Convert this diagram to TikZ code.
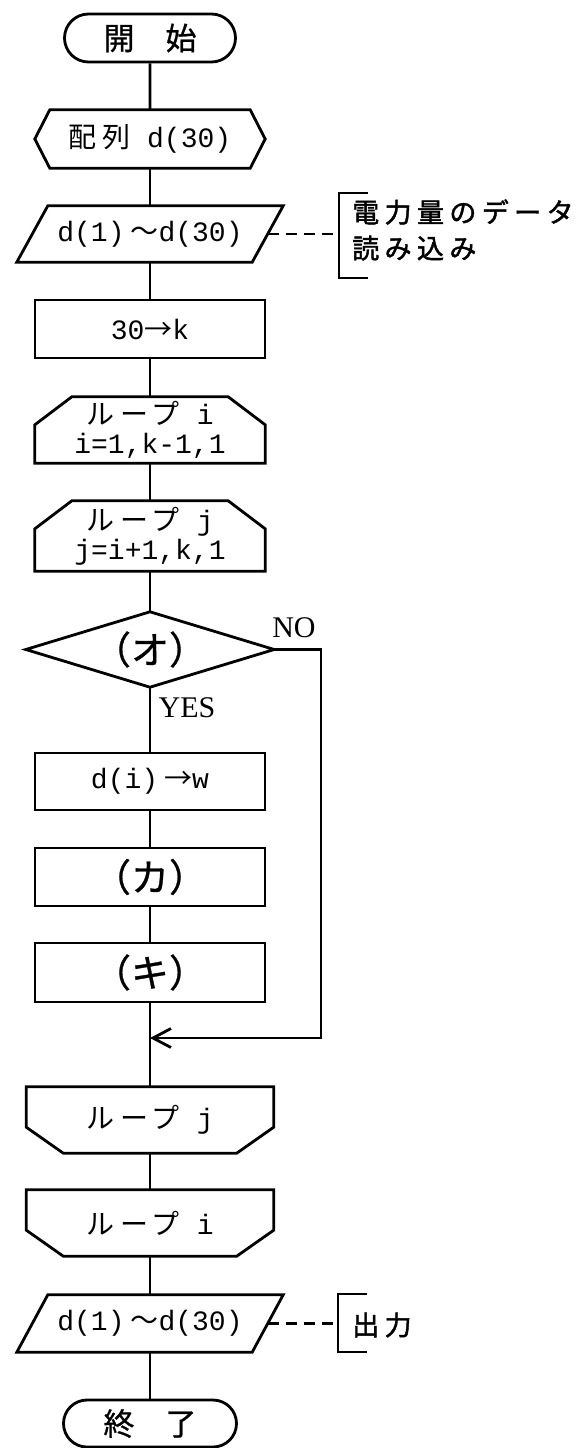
\documentclass[tikz,border=0pt]{standalone}
\usepackage{fontspec}
\setmainfont{Liberation Serif}
\newfontfamily\jpf{Noto Sans CJK JP}[LetterSpace=20]
\newfontfamily\jpheavy{Noto Sans CJK JP}[LetterSpace=20, FakeBold=1.6]
\newfontfamily\jpplain{Noto Sans CJK JP}
\newfontfamily\jpmid{Noto Sans CJK JP}[FakeBold=0.8]
\newfontfamily\monof{Liberation Mono}
\usetikzlibrary{shapes.misc,arrows.meta,calc}

% outline helpers for the flowchart symbols (drawn on plain rectangular nodes)
\newcommand\hexout[2]{%
  \draw[link] (#1.west) -- ($(#1.north west)+(#2,0)$) -- ($(#1.north east)+(-#2,0)$)
    -- (#1.east) -- ($(#1.south east)+(-#2,0)$) -- ($(#1.south west)+(#2,0)$) -- cycle;}
\newcommand\loopopen[3]{%
  \draw[link] (#1.south west) -- ($(#1.north west)+(0,#3)$) -- ($(#1.north west)+(#2,0)$)
    -- ($(#1.north east)+(-#2,0)$) -- ($(#1.north east)+(0,#3)$) -- (#1.south east) -- cycle;}
\newcommand\loopclose[3]{%
  \draw[link] (#1.north west) -- (#1.north east) -- ($(#1.south east)+(0,-#3)$)
    -- ($(#1.south east)+(-#2,0)$) -- ($(#1.south west)+(#2,0)$) -- ($(#1.south west)+(0,-#3)$) -- cycle;}
\newcommand\slantout[2]{%
  \draw[link] (#1.south west) -- ($(#1.north west)+(#2,0)$) -- (#1.north east)
    -- ($(#1.south east)+(-#2,0)$) -- cycle;}
\newcommand\diamout[1]{%
  \draw[link] (#1.north) -- (#1.east) -- (#1.south) -- (#1.west) -- cycle;}

\tikzset{
  link/.style={line width=2.8pt, line join=miter},
  blk/.style={rectangle, inner sep=0pt, minimum width=230pt, align=center,
    font=\monof\fontsize{28}{29}\selectfont},
  box/.style={blk, draw, link},
  term/.style={rounded rectangle, draw, link, inner sep=0pt,
    font=\jpmid\fontsize{31}{31}\selectfont},
  note/.style={line width=2.8pt, dash pattern=on 11pt off 7pt},
  yn/.style={font=\fontsize{30}{30}\selectfont, inner sep=0pt},
  gloss/.style={anchor=west, align=left, inner sep=0pt,
    font=\jpheavy\fontsize{27}{36}\selectfont},
  bigkana/.style={font=\jpmid\fontsize{38}{38}\selectfont},
}

\begin{document}
\begin{tikzpicture}[x=1pt, y=-1pt]
\useasboundingbox (0,0) rectangle (581,1448);

% --- main column ---
\node[term, minimum width=171pt, minimum height=48pt] (start) at (150,38) {開　始};

\node[blk, minimum height=58pt] (arr) at (150,139) {{\jpf 配列}\ d(30)};
\hexout{arr}{15}

\node[blk, minimum width=266pt, minimum height=56pt] (in1) at (150,234)
  {d(1)\hspace{6pt}{\jpplain ～}d(30)};
\slantout{in1}{31}

\node[box, minimum height=58pt] (k) at (150,329) {30{\jpplain →}k};

\node[blk, minimum height=66pt] (li) at (150,430) {{\jpf ループ}\ i\\i=1,k-1,1};
\loopopen{li}{37}{28}

\node[blk, minimum height=70pt] (lj) at (150,536) {{\jpf ループ}\ j\\j=i+1,k,1};
\loopopen{lj}{37}{28}

\node[blk, bigkana, minimum width=248pt, minimum height=75pt] (dec) at (150,649.5) {（オ）};
\diamout{dec}
\node[yn] (no) at (294,628) {NO};
\node[yn] (yes) at (187,708) {YES};

\node[box, minimum height=57pt] (w) at (150,781.5) {d(i)\hspace{6pt}{\jpplain →}w};
\node[box, bigkana, minimum height=58pt] (ka) at (150,877) {（カ）};
\node[box, bigkana, minimum height=59pt] (ki) at (150,972.5) {（キ）};

\coordinate (merge) at (150,1038);
\coordinate (noturn) at (321,649.5);

\node[blk, minimum width=247pt, minimum height=66pt] (lje) at (150,1120) {{\jpf ループ}\ j};
\loopclose{lje}{37}{26}

\node[blk, minimum width=247pt, minimum height=66pt] (lie) at (150,1223) {{\jpf ループ}\ i};
\loopclose{lie}{37}{26}

\node[blk, minimum width=266pt, minimum height=57pt] (out) at (150,1323.5)
  {d(1)\hspace{6pt}{\jpplain ～}d(30)};
\slantout{out}{31}

\node[term, minimum width=173pt, minimum height=47pt] (end) at (150,1423.5) {終　了};

% --- flow lines ---
\draw[link] (start) -- (arr);
\draw[link] (arr) -- (in1);
\draw[link] (in1) -- (k);
\draw[link] (k) -- (li);
\draw[link] (li) -- (lj);
\draw[link] (lj) -- (dec);
\draw[link] (dec) -- (w);
\draw[link] (w) -- (ka);
\draw[link] (ka) -- (ki);
\draw[link] (ki) -- (lje);
\draw[link] (lje) -- (lie);
\draw[link] (lie) -- (out);
\draw[link] (out) -- (end);
\draw[link, -{Straight Barb[length=18pt, width=19pt]}] (dec.east) -- (noturn) |- (merge);

% --- annotations ---
\coordinate (in1r) at ($(in1.east)+(-15.5,0)$);
\coordinate (br1) at (339,234);
\draw[note] (in1r) -- (br1);
\draw[link] (368,193) -- (339,193) -- (339,278) -- (368,278);
\node[gloss] (note1) at (352,230) {電力量のデータ\\読み込み};

\coordinate (outr) at ($(out.east)+(-15.5,0)$);
\coordinate (br2) at (338,1323.5);
\draw[note] (outr) -- (br2);
\draw[link] (367,1294) -- (338,1294) -- (338,1352) -- (367,1352);
\node[gloss] (note2) at (352,1325) {出力};
\end{tikzpicture}
\end{document}
